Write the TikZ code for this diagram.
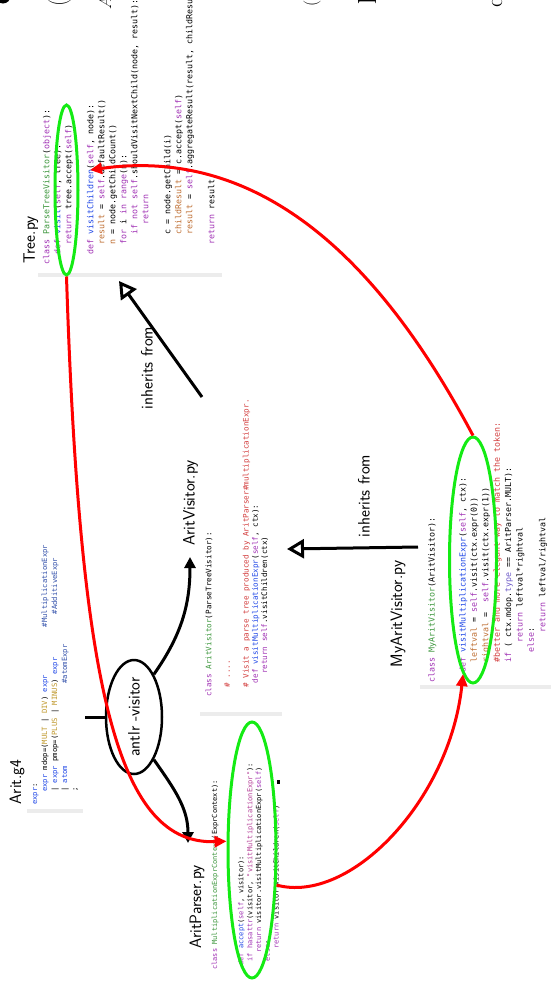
\documentclass[tikz,border=0pt]{standalone}
\usepackage{fontspec}
\usetikzlibrary{arrows.meta,shapes.geometric}
\newfontfamily\codefont{DejaVu Sans Mono}
\definecolor{pykw}{RGB}{160,50,180}
\definecolor{pycls}{RGB}{60,150,60}
\definecolor{pyfn}{RGB}{30,70,230}
\definecolor{pycmt}{RGB}{210,60,60}
\definecolor{pyvar}{RGB}{190,110,50}
\definecolor{pystr}{RGB}{180,60,150}
\definecolor{pybi}{RGB}{110,90,200}
\definecolor{grrule}{RGB}{30,70,230}
\definecolor{grtok}{RGB}{190,150,40}
\definecolor{grlab}{RGB}{50,80,170}
\definecolor{hlgreen}{RGB}{20,235,20}
\definecolor{callred}{RGB}{255,0,0}
\definecolor{shotbar}{RGB}{236,236,236}
\newcommand\ind[1]{\hspace*{#1\fontcharwd\font`0\relax}}
\newcommand\ckw[1]{\textcolor{pykw}{#1}}
\newcommand\ccls[1]{\textcolor{pycls}{#1}}
\newcommand\cfn[1]{\textcolor{pyfn}{#1}}
\newcommand\ccmt[1]{\textcolor{pycmt}{#1}}
\newcommand\cvar[1]{\textcolor{pyvar}{#1}}
\newcommand\cstr[1]{\textcolor{pystr}{#1}}
\newcommand\cbi[1]{\textcolor{pybi}{#1}}
\newcommand\grul[1]{\textcolor{grrule}{#1}}
\newcommand\gtok[1]{\textcolor{grtok}{#1}}
\newcommand\glab[1]{\textcolor{grlab}{#1}}
\tikzset{
  filename/.style={font=\sffamily\fontsize{16.5}{20}\selectfont, rotate=90, inner sep=0pt},
  code/.style={rotate=90, anchor=north west, inner sep=0pt, align=left},
  hl/.style={draw=hlgreen, line width=3pt, ellipse, inner sep=0pt},
  call/.style={draw=callred, line width=3pt, -{Triangle[length=12pt,width=11pt]}},
  gen/.style={line width=3pt, -{Triangle[length=11pt,width=11pt]}},
  inherit/.style={line width=3pt, -{Triangle[open,length=17pt,width=19pt]}},
  frag/.style={rotate=90, inner sep=0pt}
}
\begin{document}
\begin{tikzpicture}[x=1pt,y=1pt]
\useasboundingbox (0,0) rectangle (551,-991);
\clip (0,0) rectangle (551,-991);
\fill (3,4) circle (7.5);
\node[frag, anchor=west, font=\fontsize{16.5}{20}\selectfont] (fraga) at (59.5,-7) {$\bigg($};
\node[frag, anchor=base west, font=\fontsize{16.5}{20}\selectfont] (fragb) at (111,-10) {$A$};
\node[frag, anchor=west, font=\fontsize{16.5}{20}\selectfont] (fragc) at (312,-7) {$\Big($};
\node[frag, anchor=base west, font=\fontsize{26}{30}\selectfont] (fragd) at (376,-5) {l};
\node[frag, anchor=base west, font=\fontsize{23}{27}\selectfont] (frage) at (502,-8) {c};
\fill[shotbar] (38,-273) rectangle (222,-277);
\fill[shotbar] (27,-809) rectangle (83,-813);
\fill[shotbar] (200,-712) rectangle (282,-716);
\fill[shotbar] (420,-685) rectangle (551,-689);
\node[code, font=\codefont\fontsize{8.3}{11}\selectfont] (treecode) at (42.9,-265) {\vphantom{(}\ckw{class} \ccls{ParseTreeVisitor}(\ckw{object}):\\
\ind2\ckw{def} \cfn{visit}(\ckw{self}, tree):\\
\ind4\ckw{return} tree.accept(\ckw{self})\\[11pt]
\ind2\ckw{def} \cfn{visitChildren}(\ckw{self}, node):\\
\ind4\cvar{result} = \ckw{self}.defaultResult()\\
\ind4\cvar{n} = node.getChildCount()\\
\ind4\ckw{for} i \ckw{in} \ckw{range}(n):\\
\ind6\ckw{if not} \ckw{self}.shouldVisitNextChild(node, result):\\
\ind8\ckw{return}\\[11pt]
\ind6c = node.getChild(i)\\
\ind6\cvar{childResult} = c.accept(\ckw{self})\\
\ind6\cvar{result} = \ckw{self}.aggregateResult(result, childResult)\\[11pt]
\ind4\ckw{return} result};
\node[code, font=\codefont\fontsize{7.2}{10}\selectfont] (g4code) at (31.5,-805) {\vphantom{(}\grul{expr}:\\
\ind3\grul{expr} mdop=(\gtok{MULT} | \gtok{DIV}) \grul{expr}\ind{11}\glab{\#MultiplicationExpr}\\
\ind3| \grul{expr} pmop=(\gtok{PLUS} | \gtok{MINUS}) \grul{expr}\ind{10}\glab{\#AdditiveExpr}\\
\ind3| \grul{atom}\ind{19}\glab{\#atomExpr}\\
\ind3;};
\node[code, font=\codefont\fontsize{7}{8.8}\selectfont] (apcode) at (211.5,-970) {\vphantom{(}\ckw{class} \ccls{MultiplicationExprContext}(ExprContext):\\[17.6pt]
\ind1\ckw{def} \cfn{accept}(\ckw{self}, visitor):\\
\ind2\ckw{if} \ckw{hasattr}(visitor, \cstr{"visitMultiplicationExpr"}):\\
\ind4\ckw{return} visitor.visitMultiplicationExpr(\ckw{self})\\
\ind2\ckw{else}:\\
\ind5\ckw{return} visitor.visitChildren(\ckw{self})};
\node[code, font=\codefont\fontsize{7.6}{9.3}\selectfont] (avcode) at (205.3,-697) {\vphantom{(}\ckw{class} \ccls{AritVisitor}(ParseTreeVisitor):\\[9.3pt]
\ind2\ccmt{\# ....}\\[9.3pt]
\ind2\ccmt{\# Visit a parse tree produced by AritParser\#multiplicationExpr.}\\
\ind3\ckw{def} \cfn{visitMultiplicationExpr}(\ckw{self}, ctx):\\
\ind5\ckw{return} \ckw{self}.visitChildren(ctx)};
\node[code, font=\codefont\fontsize{8.3}{11.4}\selectfont] (mycode) at (428,-683) {\vphantom{(}\ckw{class} \ccls{MyAritVisitor}(AritVisitor):\\[19.6pt]
\ind2\ckw{def} \cfn{visitMultiplicationExpr}(\ckw{self}, ctx):\\
\ind4\cvar{leftval} = \ckw{self}.visit(ctx.expr(0))\\
\ind4\cvar{rightval} =\ind2\ckw{self}.visit(ctx.expr(1))\\
\ind4\ccmt{\#better and more elegant way to match the token:}\\
\ind4\ckw{if} ( ctx.mdop.\cbi{type} == AritParser.MULT):\\
\ind8\ckw{return} leftval*rightval\\
\ind6\ckw{else}:\\
\ind{10}\ckw{return} leftval/rightval};
\fill (277,-780) rectangle (280,-784);
\node[filename] (treename) at (30.8,-240) {Tree.py};
\node[filename] (g4name) at (17,-782) {Arit.g4};
\node[filename] (apname) at (197,-907) {AritParser.py};
\node[filename] (avname) at (190.5,-503) {AritVisitor.py};
\node[filename] (myname) at (398,-614) {MyAritVisitor.py};
\node[filename] (inhtop) at (147,-368) {inherits from};
\node[filename] (inhlow) at (364,-496) {inherits from};
\node[draw, line width=2.5pt, ellipse, inner sep=0pt, minimum width=56pt, minimum height=114pt] (antlr) at (134,-717) {\rotatebox{90}{\sffamily\fontsize{16.5}{20}\selectfont antlr -visitor}};
\node[hl, minimum width=23pt, minimum height=170pt] (treeell) at (66.5,-190) {};
\node[hl, minimum width=48pt, minimum height=256pt] (apell) at (252,-850) {};
\node[hl, minimum width=47pt, minimum height=246pt] (myell) at (473,-560) {};
\coordinate (avcorner) at (202,-397);
\coordinate (treebar) at (119,-281);
\coordinate (mybar) at (418,-547);
\coordinate (avside) at (287,-549);
\coordinate (visitch) at (90,-170);
\coordinate (g4tick) at (85,-717);
\coordinate (apin) at (188,-843);
\coordinate (avin) at (190,-557);
\draw[inherit] (avcorner) -- (treebar);
\draw[inherit] (mybar) -- (avside);
\draw[line width=3pt] (antlr.west) -- (g4tick);
\draw[gen] (antlr.-65) to[out=-55,in=90] (apin);
\draw[gen] (antlr.65) to[out=55,in=-90] (avin);
\draw[call] (treeell.south) .. controls (80,-700) and (120,-845) .. (apell.161);
\draw[call] (apell.-55) .. controls (350,-905) and (450,-800) .. (myell.-95);
\draw[call] (myell.north) to[out=118,in=8] (visitch);
\end{tikzpicture}
\end{document}
